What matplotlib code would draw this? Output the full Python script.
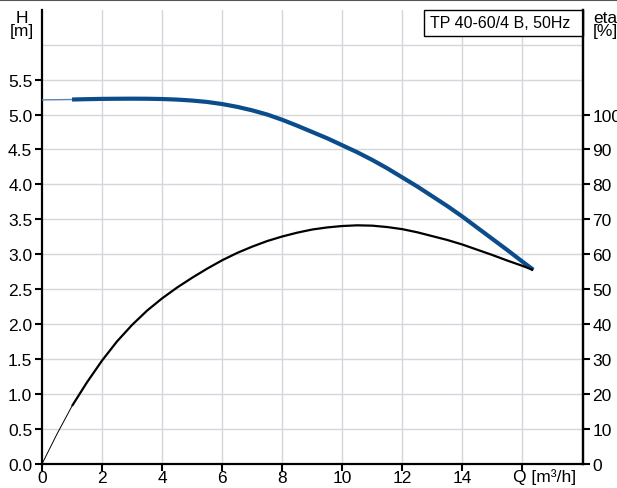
import matplotlib
matplotlib.use("Agg")
import matplotlib.pyplot as plt
import matplotlib.patches as mpatches
from matplotlib.lines import Line2D
import numpy as np

plt.rcParams["font.family"] = ["Liberation Sans", "DejaVu Sans"]

# ── Data ──────────────────────────────────────────────────
Q_H = [0, 0.5, 1, 1.5, 2, 2.5, 3, 3.5, 4, 4.5, 5, 5.5, 6, 6.5, 7, 7.5, 8,
       8.5, 9, 9.5, 10, 10.5, 11, 11.5, 12, 12.5, 13, 13.5, 14, 14.5, 15,
       15.5, 16, 16.36]
H_M = [5.21, 5.212, 5.215, 5.22, 5.224, 5.226, 5.227, 5.226, 5.222, 5.214,
       5.20, 5.18, 5.15, 5.11, 5.06, 5.00, 4.925, 4.84, 4.75, 4.66, 4.56,
       4.46, 4.35, 4.23, 4.10, 3.97, 3.83, 3.69, 3.54, 3.38, 3.22, 3.06,
       2.895, 2.78]

Q_ETA = [0, 0.5, 1, 1.5, 2, 2.5, 3, 3.5, 4, 4.5, 5, 5.5, 6, 6.5, 7, 7.5, 8,
         8.5, 9, 9.5, 10, 10.5, 11, 11.5, 12, 12.5, 13, 13.5, 14, 14.5, 15,
         15.5, 16, 16.36]
ETA_PCT = [0, 8.6, 16.6, 23.4, 29.6, 35.1, 39.8, 43.9, 47.4, 50.5, 53.3,
           55.9, 58.3, 60.4, 62.2, 63.8, 65.1, 66.2, 67.1, 67.7, 68.1, 68.3,
           68.2, 67.8, 67.2, 66.3, 65.2, 64.1, 62.8, 61.3, 59.8, 58.2, 56.7,
           55.5]

X_TICKS = [0, 2, 4, 6, 8, 10, 12, 14]
H_TICKS = [0.0, 0.5, 1.0, 1.5, 2.0, 2.5, 3.0, 3.5, 4.0, 4.5, 5.0, 5.5]
ETA_TICKS = [0, 10, 20, 30, 40, 50, 60, 70, 80, 90, 100]
TITLE = "TP 40-60/4 B, 50Hz"

BLUE = "#0b4d8a"
GRID = "#d3d6da"
FS = 12.5

fig = plt.figure(figsize=(6.17, 4.89), dpi=100)
ax = fig.add_axes([42 / 617, 24 / 489, 540.5 / 617, 454.3 / 489])
ax.set_xlim(0, 18)
ax.set_ylim(0, 6.5)

# grid
for x in range(2, 18, 2):
    ax.axvline(x, color=GRID, lw=1.0, zorder=0)
for y in np.arange(0.5, 6.01, 0.5):
    ax.axhline(y, color=GRID, lw=1.0, zorder=0)

# spines
ax.spines["top"].set_visible(False)
for side in ("left", "bottom", "right"):
    ax.spines[side].set_linewidth(1.6)
    ax.spines[side].set_color("black")

ax.set_xticks(X_TICKS + [16])
ax.set_xticklabels([str(v) for v in X_TICKS] + [""])
ax.set_yticks(H_TICKS)
ax.set_yticklabels([f"{v:.1f}" for v in H_TICKS])
ax.tick_params(axis="both", direction="out", length=5, width=1.5,
               labelsize=FS)
ax.tick_params(axis="x", pad=-1)
ax.tick_params(axis="y", pad=2)

ax.annotate("Q [m³/h]", xy=(16, 0), xycoords=("data", "axes fraction"),
            xytext=(-9, -4), textcoords="offset pixels",
            ha="left", va="top", fontsize=FS)
fig.text(22 / 617, 1 - 11 / 489, "H\n[m]", ha="center", va="top",
         fontsize=FS, linespacing=0.8)
fig.text(593 / 617, 1 - 11 / 489, "eta\n[%]", ha="left", va="top",
         fontsize=FS, linespacing=0.8)

# right eta axis
ax2 = ax.twinx()
ax2.set_ylim(0, 130)
ax2.set_yticks(ETA_TICKS)
ax2.set_yticklabels([str(v) for v in ETA_TICKS])
ax2.tick_params(axis="y", direction="out", length=5, width=1.5,
                labelsize=FS, pad=2)
for side in ("top", "left", "bottom"):
    ax2.spines[side].set_visible(False)
ax2.spines["right"].set_linewidth(1.6)

# H curve: thin start then thick
split_h = Q_H.index(1)
ax.plot(Q_H[:split_h + 1], H_M[:split_h + 1], color="#5b84b1", lw=1.0,
        zorder=3, solid_capstyle="butt")
ax.plot(Q_H[split_h:], H_M[split_h:], color=BLUE, lw=3.0, zorder=4,
        solid_capstyle="butt", solid_joinstyle="round")

# eta curve
split_e = Q_ETA.index(1)
ax2.plot(Q_ETA[:split_e + 1], ETA_PCT[:split_e + 1], color="black", lw=0.7,
         zorder=3)
ax2.plot(Q_ETA[split_e:], ETA_PCT[split_e:], color="black", lw=1.6,
         zorder=3, solid_capstyle="butt", solid_joinstyle="round")

# title box
x0 = (424 - 42) / 540.5
y0 = (465 - 37.3) / 454.3
ax.add_patch(mpatches.Rectangle((x0, y0), 1 - x0, 1 - y0,
                                transform=ax.transAxes, facecolor="white",
                                edgecolor="black", lw=1.0, zorder=5,
                                clip_on=False))
ax.text(x0 + 0.011, (y0 + 1) / 2, TITLE, transform=ax.transAxes,
        ha="left", va="center", fontsize=11.5, zorder=6)

# top border of the image
fig.add_artist(Line2D([0, 1], [1 - 0.5 / 489, 1 - 0.5 / 489],
                      transform=fig.transFigure, color="#555555", lw=1.5))

fig.savefig("out.png", dpi=100)
